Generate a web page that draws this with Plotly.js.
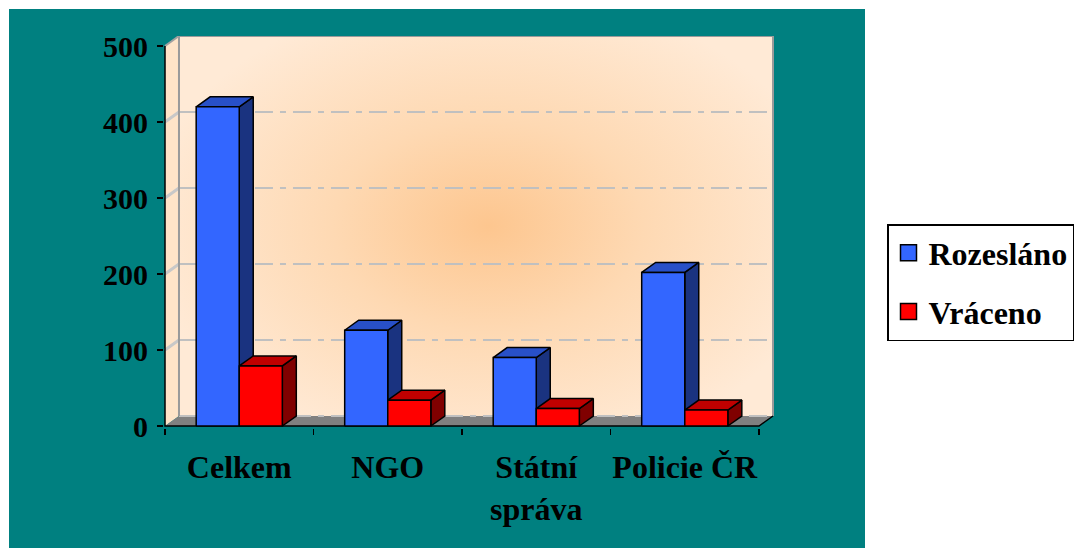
<!DOCTYPE html>
<html><head><meta charset="utf-8">
<script src="https://cdn.plot.ly/plotly-3.0.1.min.js"></script>
<style>
html,body{margin:0;padding:0;background:#fff;width:1076px;height:548px;overflow:hidden}
#teal{position:absolute;left:9px;top:9px;width:856px;height:539px;background:#008080}
#wall{position:absolute;left:179px;top:36px;width:595px;height:380px;
background:radial-gradient(ellipse 58% 62% at 52% 50%, #FDC68F 0%, #FED9B3 45%, #FFEAD6 100%)}
#chart{position:absolute;left:0;top:0;width:1076px;height:548px}
</style></head>
<body>
<div id="teal"></div><div id="wall"></div><div id="chart"></div>
<script>
// ---- data ----
const categories = ['Celkem', 'NGO', 'Státní<br>správa', 'Policie ČR'];
const rozeslano = [420, 126, 90, 202];
const vraceno = [79, 34, 23, 21];
const seriesNames = ['Rozesláno', 'Vráceno'];
const yTicks = [0, 100, 200, 300, 400, 500];

// ---- geometry (in axis units) ----
const pxX = 148.75, pxY = 0.76;
const dx = 14 / pxX, dy = 10 / pxY;
const bw = 0.29;
const yMax = 500, nCat = categories.length;

function poly(list) {
  const xs = [], ys = [];
  list.forEach(p => { p.forEach(q => { xs.push(q[0]); ys.push(q[1]); }); xs.push(p[0][0]); ys.push(p[0][1]); xs.push(null); ys.push(null); });
  return {x: xs, y: ys};
}
function barFaces(vals, off) {
  const front = [], top = [], side = [];
  vals.forEach((v, i) => {
    const x0 = i + 0.5 + off, x1 = x0 + bw;
    front.push([[x0,0],[x1,0],[x1,v],[x0,v]]);
    top.push([[x0,v],[x1,v],[x1+dx,v+dy],[x0+dx,v+dy]]);
    side.push([[x1,0],[x1+dx,dy],[x1+dx,v+dy],[x1,v]]);
  });
  return {front: poly(front), top: poly(top), side: poly(side)};
}
function fillTrace(p, fill, lineColor, lw) {
  return {type:'scatter', mode:'lines', x:p.x, y:p.y, fill:'toself', fillcolor:fill,
    line:{color:lineColor, width:lw}, showlegend:false, hoverinfo:'skip'};
}
function lineTrace(xs, ys, color, w, dash) {
  return {type:'scatter', mode:'lines', x:xs, y:ys, line:{color:color, width:w, dash:dash||'solid'},
    showlegend:false, hoverinfo:'skip'};
}

const traces = [];
traces.push(fillTrace(poly([[[0,0],[0,yMax],[dx,yMax+dy],[dx,dy]]]), '#FFE4C8', 'rgba(0,0,0,0)', 0));
traces.push(fillTrace(poly([[[0,0],[nCat,0],[nCat+dx,dy],[dx,dy]]]), '#808080', 'rgba(0,0,0,0)', 0));
{
  const gx = [], gy = [], sx = [], sy = [];
  yTicks.slice(0, -1).forEach(v => { gx.push(dx, nCat + dx, null); gy.push(v + dy, v + dy, null); });
  yTicks.slice(1, -1).forEach(v => { sx.push(0, dx, null); sy.push(v, v + dy, null); });
  traces.push(lineTrace(gx, gy, '#C0C0C0', 2, '18px,7px,6px,7px'));
  traces.push(lineTrace(sx, sy, '#C8C8C8', 3));
}
traces.push(lineTrace([dx, dx, nCat + dx, nCat + dx], [dy, yMax + dy, yMax + dy, dy], '#9A9A9A', 2));
traces.push(lineTrace([0, dx], [yMax, yMax + dy], '#A0A0A0', 2));
traces.push(lineTrace([0, 0, nCat, nCat + dx], [yMax, 0, 0, dy], '#000000', 1.5));

const blue = barFaces(rozeslano, -bw), red = barFaces(vraceno, 0);
traces.push(fillTrace(blue.side, '#1A3380', '#000', 1.5));
traces.push(fillTrace(blue.top, '#2850C8', '#000', 1.5));
traces.push(fillTrace(blue.front, '#3366FF', '#000', 1.5));
traces.push(fillTrace(red.side, '#800000', '#000', 1.5));
traces.push(fillTrace(red.top, '#C00000', '#000', 1.5));
traces.push(fillTrace(red.front, '#FF0000', '#000', 1.5));

[['#3366FF', seriesNames[0], 'a'], ['#FF0000', seriesNames[1], 'b']].forEach(s => {
  traces.push({type:'scatter', mode:'markers', x:[null], y:[null], name:s[1], legendgroup:s[2],
    marker:{symbol:'square', size:19, color:s[0], line:{color:'#000', width:1.5}}});
});

const font = {family:'Liberation Serif, serif', size:30, color:'#000', weight:'bold'};
const font2 = {family:'Liberation Serif, serif', size:32, color:'#000', weight:'bold'};
const layout = {
  width:1076, height:548,
  margin:{l:164, r:302, t:36, b:120, autoexpand:false},
  paper_bgcolor:'rgba(0,0,0,0)', plot_bgcolor:'rgba(0,0,0,0)',
  showlegend:true,
  xaxis:{range:[-1/pxX, nCat + dx + 1/pxX], tickvals:categories.map((c,i)=>i+0.5), ticktext:categories,
    ticks:'', showgrid:false, zeroline:false, showline:false, tickfont:font2, ticklabelstandoff:17,
    minor:{tickmode:'linear', tick0:0, dtick:1, ticks:'outside', ticklen:6, tickwidth:1.5, tickcolor:'#000', showgrid:false}},
  yaxis:{range:[-2/pxY, yMax + dy], tickvals:yTicks, ticks:'outside', ticklen:6, tickwidth:1.5, tickcolor:'#000',
    showgrid:false, zeroline:false, showline:false, tickfont:font, ticklabelstandoff:3},
  legend:{x:(887-164)/610, y:(428-224)/392, xanchor:'left', yanchor:'top', bgcolor:'#fff',
    bordercolor:'#000', borderwidth:1.5, font:font2, traceorder:'grouped', tracegroupgap:14, itemwidth:30}
};
Plotly.newPlot('chart', traces, layout, {staticPlot:true, displayModeBar:false});
</script>
</body></html>
